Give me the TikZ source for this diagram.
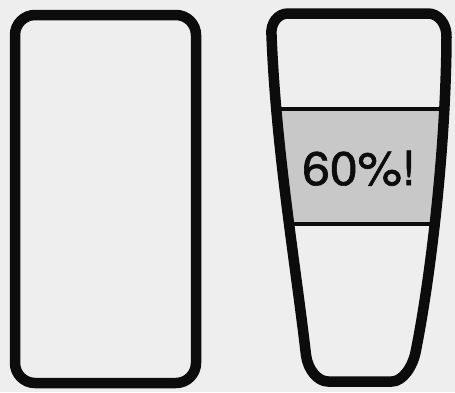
\documentclass[tikz,border=0pt]{standalone}
\usepackage{fontspec}
\setmainfont{TeX Gyre Heros}
\newfontfamily\pctfont[FakeBold=1.2]{TeX Gyre Heros}
\definecolor{paper}{RGB}{238,238,238}
\definecolor{ink}{RGB}{12,12,12}
\definecolor{bandgray}{RGB}{200,200,200}
\begin{document}
\begin{tikzpicture}[x=1pt,y=-1pt,
  outline/.style={draw=ink, line width=10.5pt, line join=round},
  band/.style={fill=bandgray},
  level/.style={draw=ink, line width=4pt},
  pcttext/.style={font=\pctfont\fontsize{47}{47}\selectfont, text=ink, inner sep=0pt}]
\fill[paper] (0,0) rectangle (455,392);
\useasboundingbox (0,0) rectangle (455,392);
% left container
\draw[outline, rounded corners=20pt] (15,15) rectangle (196,383);
% right cup: band
\begin{scope}
\clip (288,13.5) -- (428,13.5) .. controls (438.6,13.5) and (446.9,24.1) .. (446.5,37)
  .. controls (446,150) and (430,280) .. (416,350)
  .. controls (413,367.3) and (402.2,381.5) .. (392,381.5) -- (328,381.5)
  .. controls (317.7,381.5) and (307.8,369.6) .. (306,355)
  .. controls (295,260) and (276,150) .. (271.5,35)
  .. controls (270.3,23.2) and (277.7,13.5) .. (288,13.5) -- cycle;
\fill[band] (250,109) rectangle (460,224);
\draw[level] (250,109) -- (460,109);
\draw[level] (250,224) -- (460,224);
\end{scope}
% right cup outline
\draw[outline] (288,13.5) -- (428,13.5) .. controls (438.6,13.5) and (446.9,24.1) .. (446.5,37)
  .. controls (446,150) and (430,280) .. (416,350)
  .. controls (413,367.3) and (402.2,381.5) .. (392,381.5) -- (328,381.5)
  .. controls (317.7,381.5) and (307.8,369.6) .. (306,355)
  .. controls (295,260) and (276,150) .. (271.5,35)
  .. controls (270.3,23.2) and (277.7,13.5) .. (288,13.5) -- cycle;
\node[pcttext, anchor=base, xscale=1.06] (pct) at (359,185) {60\%!};
\end{tikzpicture}
\end{document}
